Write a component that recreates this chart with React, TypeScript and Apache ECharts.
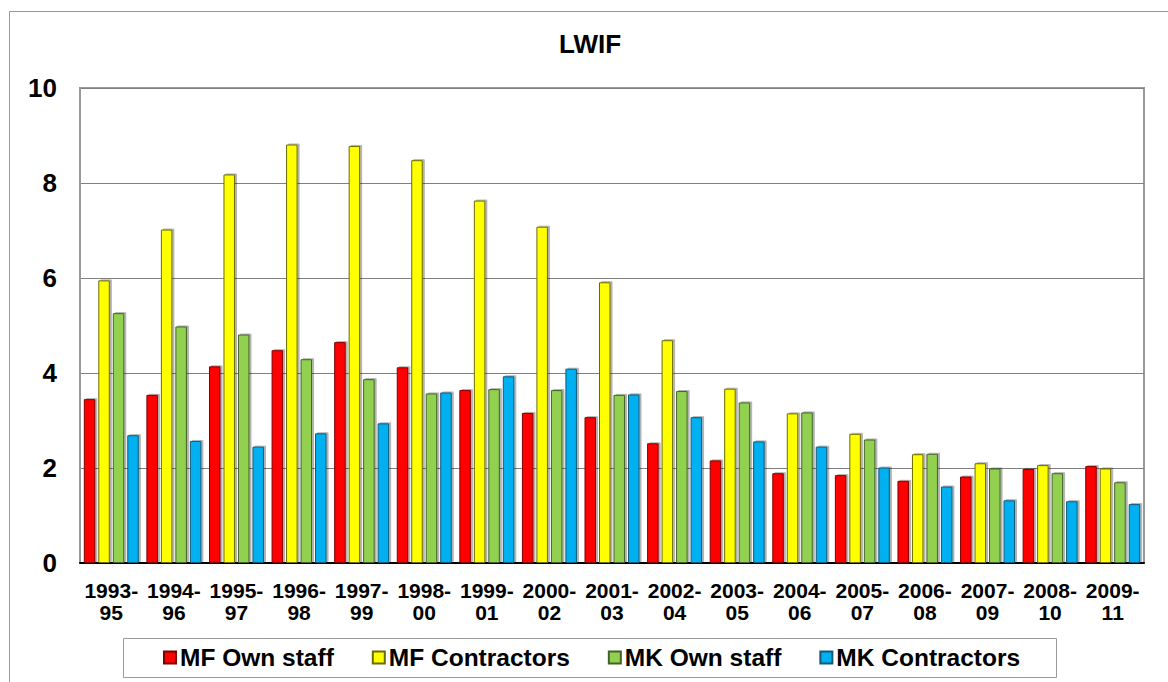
import React, { useEffect, useRef } from "react";
import * as echarts from "echarts";

const categories = [
  "1993-\n95", "1994-\n96", "1995-\n97", "1996-\n98", "1997-\n99", "1998-\n00",
  "1999-\n01", "2000-\n02", "2001-\n03", "2002-\n04", "2003-\n05", "2004-\n06",
  "2005-\n07", "2006-\n08", "2007-\n09", "2008-\n10", "2009-\n11",
];
const mfOwnStaff = [3.45, 3.54, 4.14, 4.48, 4.65, 4.12, 3.64, 3.16, 3.07, 2.52, 2.16, 1.89, 1.85, 1.73, 1.82, 1.98, 2.04];
const mfContractors = [5.95, 7.02, 8.18, 8.81, 8.78, 8.48, 7.63, 7.08, 5.91, 4.69, 3.67, 3.15, 2.72, 2.29, 2.10, 2.06, 1.99];
const mkOwnStaff = [5.26, 4.98, 4.81, 4.29, 3.87, 3.57, 3.66, 3.64, 3.54, 3.62, 3.38, 3.17, 2.60, 2.30, 1.99, 1.89, 1.70];
const mkContractors = [2.69, 2.57, 2.45, 2.73, 2.94, 3.59, 3.93, 4.09, 3.55, 3.07, 2.56, 2.45, 2.01, 1.61, 1.32, 1.30, 1.24];
const yTicks = [0, 2, 4, 6, 8, 10];

const FONT = "'Liberation Sans', Arial, sans-serif";

export default function App() {
  const ref = useRef<HTMLDivElement>(null);
  useEffect(() => {
    if (!ref.current) return;
    const chart = echarts.init(ref.current, null, { renderer: "svg" });
    const mk = (name: string, data: number[], color: string, border: string) => ({
      name,
      type: "bar",
      data,
      barWidth: 11.5,
      barGap: "26%",
      itemStyle: {
        color,
        borderColor: border,
        borderWidth: 1,
        shadowColor: "rgba(0,0,0,0.3)",
        shadowOffsetX: 2,
        shadowOffsetY: -1,
        shadowBlur: 0,
      },
    });
    chart.setOption({
      animation: false,
      backgroundColor: "#fff",
      textStyle: { fontFamily: FONT },
      title: {
        text: "LWIF",
        left: 590,
        textAlign: "center",
        top: 31,
        padding: 0,
        textStyle: { fontFamily: FONT, fontSize: 26, fontWeight: "bold", color: "#000" },
      },
      graphic: [
        {
          type: "rect",
          shape: { x: 9.5, y: 11.5, width: 1200, height: 700 },
          style: { fill: "none", stroke: "#999", lineWidth: 1 },
          silent: true,
        },
        {
          type: "rect",
          shape: { x: 123.5, y: 638.5, width: 933, height: 39 },
          style: { fill: "none", stroke: "#999", lineWidth: 1 },
          silent: true,
        },
      ],
      legend: {
        left: 163,
        top: 645,
        padding: 0,
        itemWidth: 12,
        itemHeight: 12,
        itemGap: 38,
        icon: "rect",
        textStyle: { fontFamily: FONT, fontSize: 24.5, fontWeight: "bold", color: "#000", padding: [0, 0, 0, -1] },
        data: ["MF Own staff", "MF Contractors", "MK Own staff", "MK Contractors"],
      },
      grid: {
        left: 80,
        top: 88,
        right: 24,
        bottom: 119,
        show: true,
        borderColor: "#999",
        borderWidth: 2,
        containLabel: false,
      },
      xAxis: {
        type: "category",
        data: categories,
        axisLine: { show: true, lineStyle: { color: "#000", width: 2 } },
        axisTick: { show: false },
        axisLabel: {
          interval: 0,
          margin: 16,
          fontFamily: FONT,
          fontSize: 21,
          fontWeight: "bold",
          color: "#000",
          lineHeight: 22,
        },
      },
      yAxis: {
        type: "value",
        min: yTicks[0],
        max: yTicks[yTicks.length - 1],
        interval: 2,
        axisLine: { show: true, lineStyle: { color: "#999", width: 2 } },
        axisTick: { show: false },
        splitLine: { lineStyle: { color: "#808080", width: 1 } },
        axisLabel: {
          margin: 23,
          fontFamily: FONT,
          fontSize: 26,
          fontWeight: "bold",
          color: "#000",
        },
      },
      series: [
        mk("MF Own staff", mfOwnStaff, "#FF0000", "#800000"),
        mk("MF Contractors", mfContractors, "#FFFF00", "#6b6b00"),
        mk("MK Own staff", mkOwnStaff, "#92D050", "#44622a"),
        mk("MK Contractors", mkContractors, "#00B0F0", "#105a78"),
      ],
    });
    return () => chart.dispose();
  }, []);
  return (
    <div
      ref={ref}
      style={{ position: "absolute", left: 0, top: 0, width: 1168, height: 682 }}
    />
  );
}
